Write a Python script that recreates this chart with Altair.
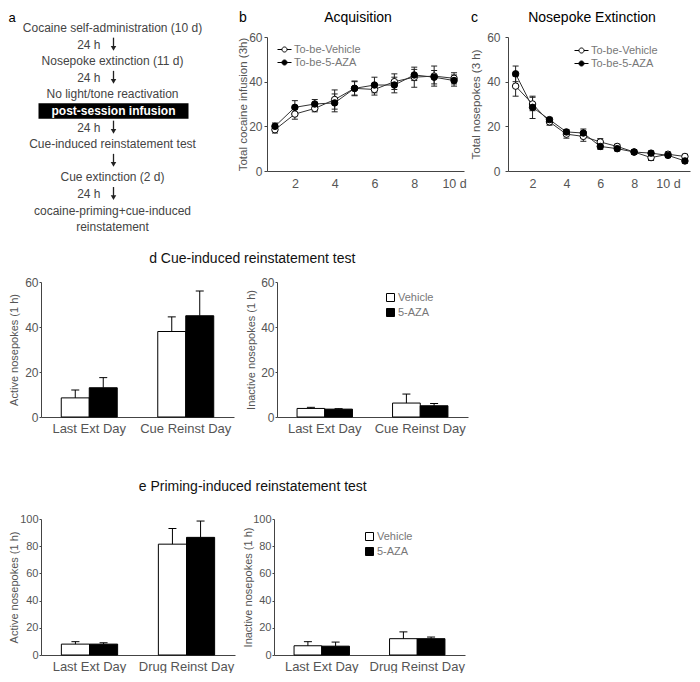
import altair as alt
import pandas as pd

FONT = "Liberation Sans"
LABEL = "#555555"
AXIS = "#444444"
LEGEND = "#777777"

# ---------------- data ----------------
flow_text = ["Cocaine self-administration (10 d)", "24 h", "Nosepoke extinction (11 d)", "24 h",
             "No light/tone reactivation", "post-session infusion", "24 h",
             "Cue-induced reinstatement  test", "", "Cue extinction (2 d)", "24 h",
             "cocaine-priming+cue-induced", "reinstatement"]
flow_kind = ["step", "delay", "step", "delay", "step", "box", "delay", "step", "arrow",
             "step", "delay", "step", "step"]

acq_days = [1, 2, 3, 4, 5, 6, 7, 8, 9, 10]
acq_vehicle = [18.5, 25.5, 28.0, 32.0, 37.0, 36.5, 40.0, 42.0, 42.5, 41.5]
acq_vehicle_err = [1.5, 2.3, 1.5, 4.3, 3.0, 2.5, 3.5, 4.5, 4.5, 2.5]
acq_aza = [20.0, 28.5, 30.0, 30.5, 37.0, 38.5, 38.5, 43.0, 42.0, 40.5]
acq_aza_err = [1.5, 3.0, 2.0, 4.0, 3.3, 3.5, 3.5, 2.5, 3.0, 2.5]

ext_days = [1, 2, 3, 4, 5, 6, 7, 8, 9, 10, 11]
ext_vehicle = [38.0, 30.0, 22.0, 16.5, 15.5, 13.0, 11.0, 8.5, 6.0, 7.5, 6.5]
ext_vehicle_err = [4.5, 3.0, 1.5, 1.8, 2.2, 1.5, 1.0, 1.0, 1.3, 1.0, 1.0]
ext_aza = [43.5, 28.5, 23.0, 17.5, 17.0, 11.0, 10.0, 8.5, 8.0, 7.0, 4.5]
ext_aza_err = [3.5, 5.0, 1.0, 1.0, 1.8, 1.3, 1.0, 1.0, 1.0, 1.0, 1.0]

groups_d = ["Last Ext Day", "Cue Reinst Day"]
d_active_vehicle = [8.5, 38.0]
d_active_vehicle_err = [3.5, 6.5]
d_active_aza = [13.0, 45.0]
d_active_aza_err = [4.5, 11.0]
d_inactive_vehicle = [3.8, 6.2]
d_inactive_vehicle_err = [0.5, 4.0]
d_inactive_aza = [3.5, 5.0]
d_inactive_aza_err = [0.2, 1.0]

groups_e = ["Last Ext Day", "Drug Reinst Day"]
e_active_vehicle = [8.0, 81.5]
e_active_vehicle_err = [1.8, 11.5]
e_active_aza = [8.0, 86.5]
e_active_aza_err = [1.0, 12.0]
e_inactive_vehicle = [6.8, 12.0]
e_inactive_vehicle_err = [3.0, 5.0]
e_inactive_aza = [6.5, 12.0]
e_inactive_aza_err = [3.0, 1.2]

# ---------------- panel a (flow chart) ----------------
ROW_STEP = 16.6
ROW_LO = 0.54
flow_df = pd.DataFrame({"row": list(range(len(flow_text))), "text": flow_text, "kind": flow_kind})
ysc_a = alt.Scale(domain=[ROW_LO, len(flow_text) - 0.5], reverse=True, nice=False, zero=False)
A_HEIGHT = round((len(flow_text) - 0.5 - ROW_LO) * ROW_STEP, 1)
CX = 71.5
base_a = alt.Chart(flow_df)
steps = base_a.transform_filter("datum.kind == 'step'").mark_text(
    font=FONT, fontSize=12, color="#444", align="center", baseline="middle"
).encode(x=alt.value(CX), y=alt.Y("row:Q", scale=ysc_a, axis=None), text="text:N")
delays = base_a.transform_filter("datum.kind == 'delay'").mark_text(
    font=FONT, fontSize=12, color="#444", align="right", baseline="middle"
).encode(x=alt.value(CX - 12), y=alt.Y("row:Q", scale=ysc_a, axis=None), text="text:N")
arrow_base = base_a.transform_filter("datum.kind == 'delay' || datum.kind == 'arrow'").transform_calculate(
    top="datum.row - 0.42", bot="datum.row + 0.2", head="datum.row + 0.22")
shafts = arrow_base.mark_rule(color="#222", strokeWidth=1.3).encode(
    x=alt.value(CX + 1), y=alt.Y("top:Q", scale=ysc_a, axis=None), y2="bot:Q")
heads = arrow_base.mark_point(shape="triangle-down", filled=True, color="#222", size=30, opacity=1).encode(
    x=alt.value(CX + 1), y=alt.Y("head:Q", scale=ysc_a, axis=None))
box_base = base_a.transform_filter("datum.kind == 'box'").transform_calculate(
    top="datum.row - 0.47", bot="datum.row + 0.47")
box = box_base.mark_rect(color="black").encode(
    x=alt.value(CX - 74), x2=alt.value(CX + 76), y=alt.Y("top:Q", scale=ysc_a, axis=None), y2="bot:Q")
box_text = base_a.transform_filter("datum.kind == 'box'").mark_text(
    font=FONT, fontSize=12, fontWeight="bold", color="white", align="center", baseline="middle"
).encode(x=alt.value(CX + 1), y=alt.Y("row:Q", scale=ysc_a, axis=None), text="text:N")
letter_a = alt.Chart(pd.DataFrame({"t": ["a"]})).mark_text(
    font=FONT, fontSize=13, align="left", baseline="middle", color="black"
).encode(x=alt.value(-32.5), y=alt.value(-19.5), text="t:N")
panel_a = alt.layer(steps, delays, shafts, heads, box, box_text, letter_a).properties(
    width=192.5, height=A_HEIGHT)

# ---------------- line panels ----------------
LINE_SYMBOL = "M-1,0H-0.36M0.36,0A0.36,0.36,0,1,1,-0.36,0A0.36,0.36,0,1,1,0.36,0M0.36,0H1"


def line_panel(days, veh, veh_err, aza, aza_err, xdom, width, height, ytitle, title_text,
               letter, letter_x, title_cx, title_x, legend_x, legend_y, label_pad):
    series = ["To-be-Vehicle", "To-be-5-AZA"]
    rows = []
    for d, v, e in zip(days, veh, veh_err):
        rows.append(dict(day=d, series=series[0], value=v, lo=v - e, hi=v + e))
    for d, v, e in zip(days, aza, aza_err):
        rows.append(dict(day=d, series=series[1], value=v, lo=v - e, hi=v + e))
    df = pd.DataFrame(rows)
    base = alt.Chart(df)
    xenc = alt.X("day:Q", scale=alt.Scale(domain=xdom, nice=False, zero=False),
                 axis=alt.Axis(values=[2, 4, 6, 8, 10],
                               labelExpr="datum.value == 10 ? '10 d' : datum.label",
                               title=None, ticks=False, labelPadding=6, labelFontSize=12.5))
    yscale = alt.Scale(domain=[0, 60], nice=False)
    yaxis = alt.Axis(values=[0, 20, 40, 60], title=ytitle, tickSize=3, labelPadding=label_pad,
                     titleX=title_x, titleY=height / 2, titleFontSize=11.5, labelFontSize=12)
    line = base.mark_line(color="#333", strokeWidth=1).encode(
        x=xenc, y=alt.Y("value:Q", scale=yscale, axis=yaxis), detail="series:N")
    err = base.mark_rule(color="#222", strokeWidth=1).encode(
        x=xenc, y=alt.Y("lo:Q", scale=yscale, axis=yaxis), y2="hi:Q")
    cap_lo = base.mark_tick(orient="horizontal", size=6, thickness=1, color="#222", opacity=1).encode(
        x=xenc, y=alt.Y("lo:Q", scale=yscale, axis=yaxis))
    cap_hi = base.mark_tick(orient="horizontal", size=6, thickness=1, color="#222", opacity=1).encode(
        x=xenc, y=alt.Y("hi:Q", scale=yscale, axis=yaxis))
    pts = base.mark_point(filled=True, size=42, stroke="black", strokeWidth=1, opacity=1).encode(
        x=xenc, y=alt.Y("value:Q", scale=yscale, axis=yaxis),
        fill=alt.Fill("series:N", scale=alt.Scale(domain=series, range=["white", "black"]),
                      legend=alt.Legend(title=None, orient="none", legendX=legend_x, legendY=legend_y,
                                        symbolType=LINE_SYMBOL, symbolSize=196,
                                        symbolStrokeColor="black", symbolStrokeWidth=1,
                                        labelFont=FONT, labelFontSize=11, labelColor=LEGEND,
                                        labelOffset=2, rowPadding=0)))
    letter_layer = alt.Chart(pd.DataFrame({"t": [letter]})).mark_text(
        font=FONT, fontSize=14, align="left", baseline="middle", color="black"
    ).encode(x=alt.value(letter_x), y=alt.value(-19), text="t:N")
    title_layer = alt.Chart(pd.DataFrame({"t": [title_text]})).mark_text(
        font=FONT, fontSize=14, align="center", baseline="middle", color="black"
    ).encode(x=alt.value(title_cx), y=alt.value(-19), text="t:N")
    return alt.layer(line, err, cap_lo, cap_hi, pts, letter_layer, title_layer).properties(
        width=width, height=height)


panel_b = line_panel(acq_days, acq_vehicle, acq_vehicle_err, acq_aza, acq_aza_err,
                     [0.6, 10.5], 197, 134, "Total cocaine infusion (3h)", "Acquisition",
                     "b", -28, 91, -19, 10, 5, 2)
panel_c = line_panel(ext_days, ext_vehicle, ext_vehicle_err, ext_aza, ext_aza_err,
                     [0.55, 11.3], 182, 134, "Total nosepokes (3 h)", "Nosepoke Extinction",
                     "c", -37, 84, -27, 66, 6, 5)

# ---------------- bar panels ----------------


def bar_panel(groups, veh, veh_err, aza, aza_err, ymax, ystep, ytitle, width, height,
              title_x, label_size, legend_xy=None):
    treat = ["Vehicle", "5-AZA"]
    rows = []
    for g, v, e in zip(groups, veh, veh_err):
        rows.append(dict(group=g, treatment=treat[0], value=v, hi=v + e))
    for g, v, e in zip(groups, aza, aza_err):
        rows.append(dict(group=g, treatment=treat[1], value=v, hi=v + e))
    df = pd.DataFrame(rows)
    base = alt.Chart(df)
    xenc = alt.X("group:N", sort=groups, scale=alt.Scale(paddingInner=0.42, paddingOuter=0.21),
                 axis=alt.Axis(title=None, labelAngle=0, ticks=False, labelPadding=5, labelFontSize=13))
    xo = alt.XOffset("treatment:N", sort=treat, scale=alt.Scale(paddingInner=0, paddingOuter=0))
    yscale = alt.Scale(domain=[0, ymax], nice=False)
    yaxis = alt.Axis(values=list(range(0, ymax + 1, ystep)), title=ytitle, tickSize=2, labelPadding=1,
                     titleX=title_x, titleY=height / 2, titleFontSize=11, labelFontSize=label_size)
    if legend_xy is None:
        fill = alt.Fill("treatment:N", sort=treat,
                        scale=alt.Scale(domain=treat, range=["white", "black"]), legend=None)
    else:
        fill = alt.Fill("treatment:N", sort=treat,
                        scale=alt.Scale(domain=treat, range=["white", "black"]),
                        legend=alt.Legend(title=None, orient="none", legendX=legend_xy[0],
                                          legendY=legend_xy[1], symbolType="square", symbolSize=64,
                                          symbolStrokeColor="black", symbolStrokeWidth=1,
                                          labelFont=FONT, labelFontSize=11, labelColor=LEGEND,
                                          labelOffset=2, rowPadding=2))
    bars = base.mark_bar(stroke="black", strokeWidth=1).encode(
        x=xenc, xOffset=xo, y=alt.Y("value:Q", scale=yscale, axis=yaxis), fill=fill)
    err = base.mark_rule(color="black", strokeWidth=1).encode(
        x=xenc, xOffset=xo, y=alt.Y("value:Q", scale=yscale, axis=yaxis), y2="hi:Q")
    cap = base.mark_tick(orient="horizontal", size=8, thickness=1, color="black", opacity=1).encode(
        x=xenc, xOffset=xo, y=alt.Y("hi:Q", scale=yscale, axis=yaxis))
    return alt.layer(bars, err, cap).properties(width=width, height=height)


d_left = bar_panel(groups_d, d_active_vehicle, d_active_vehicle_err, d_active_aza, d_active_aza_err,
                   60, 20, "Active nosepokes  (1 h)", 193, 135, -21.5, 12)
d_right = bar_panel(groups_d, d_inactive_vehicle, d_inactive_vehicle_err, d_inactive_aza,
                    d_inactive_aza_err, 60, 20, "Inactive nosepokes  (1 h)", 191, 135, -21, 12, (108, 10))
e_left = bar_panel(groups_e, e_active_vehicle, e_active_vehicle_err, e_active_aza, e_active_aza_err,
                   100, 20, "Active nosepokes (1 h)", 194, 136, -21.5, 11)
e_right = bar_panel(groups_e, e_inactive_vehicle, e_inactive_vehicle_err, e_inactive_aza,
                    e_inactive_aza_err, 100, 20, "Inactive nosepokes (1 h)", 191, 136, -21, 11, (90, 12))


def ind(ch):
    return ch.resolve_scale(x="independent", y="independent", fill="independent",
                            xOffset="independent").resolve_legend(fill="independent")


row1 = ind(alt.hconcat(panel_a, panel_b, panel_c, spacing=2))
row2 = ind(alt.hconcat(d_left, d_right, spacing=10)).properties(
    title=alt.TitleParams("d Cue-induced  reinstatement test", anchor="middle", fontSize=14,
                          fontWeight="normal", color="#111", font=FONT, offset=10, dx=14))
row3 = ind(alt.hconcat(e_left, e_right, spacing=6)).properties(
    title=alt.TitleParams(["", "e Priming-induced reinstatement test"], anchor="middle", fontSize=14,
                          lineHeight=29, fontWeight="normal", color="#111", font=FONT, offset=19, dx=16))

chart = ind(alt.vconcat(row1, row2, row3, spacing=16)).properties(
    padding={"left": 0, "right": 0, "top": 3, "bottom": 0}
).configure_view(stroke=None).configure_axis(
    grid=False, domainColor=AXIS, tickColor=AXIS, labelColor=LABEL, titleColor=LABEL,
    labelFont=FONT, titleFont=FONT, titleFontWeight="normal", labelFontSize=12.5
)

chart.save("out.html", embed_options={"renderer": "svg", "actions": False})
